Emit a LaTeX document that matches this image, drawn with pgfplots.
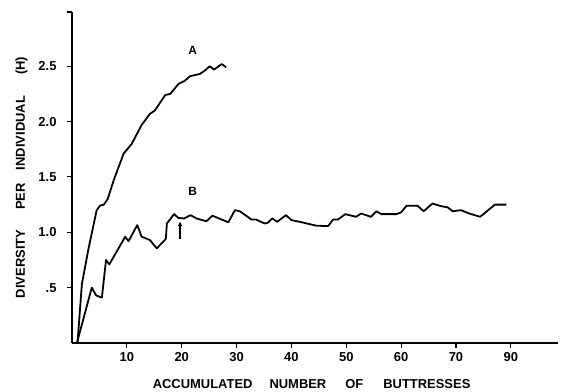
\documentclass[border=0pt]{standalone}
\usepackage{fontspec}
\setmainfont{Liberation Sans}
\usepackage{pgfplots}
\pgfplotsset{compat=1.18}
\usetikzlibrary{arrows.meta}
\begin{document}
\begin{tikzpicture}[x=1bp,y=1bp]
\path[use as bounding box] (0,0) rectangle (561,391);
\begin{axis}[
  at={(72bp,48bp)}, anchor=origin,
  scale only axis, width=486bp, height=331bp,
  xmin=0, xmax=88.6, ymin=0, ymax=2.99,
  axis x line=bottom, axis y line=left,
  axis line style={-, line width=1.5pt},
  tick align=outside,
  major tick length=5bp,
  tick style={line width=1.1pt, black},
  xtick={10,20,30,40,50,60,70,80},
  xticklabels={10,20,30,40,50,60,70,90},
  ytick={0.5,1,1.5,2,2.5,2.99},
  yticklabels={.5,1.0,1.5,2.0,2.5,},
  /pgf/number format/assume math mode=true,
  ticklabel style={font=\bfseries\fontsize{13}{13}\selectfont},
  xticklabel style={yshift=-1bp},
  yticklabel style={xshift=-7bp},
  xlabel={ACCUMULATED\hspace{17bp}NUMBER\hspace{19bp}OF\hspace{20bp}BUTTRESSES},
  ylabel={DIVERSITY\hspace{20bp}PER\hspace{13bp}INDIVIDUAL\hspace{21bp}(H)},
  label style={font=\bfseries\fontsize{13}{13}\selectfont},
  xlabel style={at={(axis description cs:0.493,-0.136)}, anchor=base},
  ylabel style={at={(axis description cs:-0.097,0.5)}, anchor=base},
  clip=false,
]
\addplot[black, line width=1.8pt, line join=round] coordinates {
(1,0) (1.8,0.53) (3,0.85) (4.5,1.2) (5.1,1.24) (5.8,1.25) (6.5,1.30) (7.6,1.47)
(9.4,1.71) (10.9,1.80) (12.7,1.97) (14.2,2.07) (15.1,2.10) (17,2.24) (17.9,2.25)
(19.4,2.34) (20.6,2.37) (21.5,2.41) (23.3,2.43) (24.2,2.46) (25.1,2.50) (25.9,2.47)
(27.3,2.52) (28.1,2.49)
};
\addplot[black, line width=1.8pt, line join=round] coordinates {
(0.9,0) (3.6,0.50) (4.4,0.43) (5.45,0.41) (6.2,0.75) (6.8,0.71) (9.7,0.96) (10.3,0.92)
(11.9,1.065) (12.7,0.96) (14.2,0.93) (15.45,0.855) (17.1,0.94) (17.3,1.08) (18.6,1.164)
(19.4,1.13) (20.4,1.125) (21.6,1.155) (22.7,1.125) (24.5,1.10) (25.6,1.15) (28.5,1.09)
(29.7,1.20) (30.6,1.19) (32.7,1.116) (33.5,1.116) (35.1,1.08) (35.7,1.086) (36.5,1.125)
(37.4,1.095) (39,1.155) (40,1.11) (41.5,1.095) (44.5,1.06) (46.7,1.056) (47.6,1.116)
(48.5,1.116) (49.8,1.164) (51.8,1.14) (52.7,1.17) (54.5,1.14) (55.5,1.19) (56.4,1.164)
(59.1,1.164) (60,1.18) (61,1.24) (63,1.24) (64.1,1.19) (65.7,1.26) (67.3,1.236)
(68.5,1.225) (69.4,1.19) (70.9,1.20) (72.4,1.17) (74.4,1.14) (77.1,1.25) (79.2,1.25)
};
\node[font=\bfseries\fontsize{12}{12}\selectfont] at (axis cs:22,2.64) {A};
\node[font=\bfseries\fontsize{12}{12}\selectfont] at (axis cs:22,1.37) {B};
\draw[line width=1.4pt, -{Latex[length=5bp,width=5bp]}] (axis cs:19.7,0.94) -- (axis cs:19.7,1.10);
\end{axis}
\end{tikzpicture}
\end{document}
